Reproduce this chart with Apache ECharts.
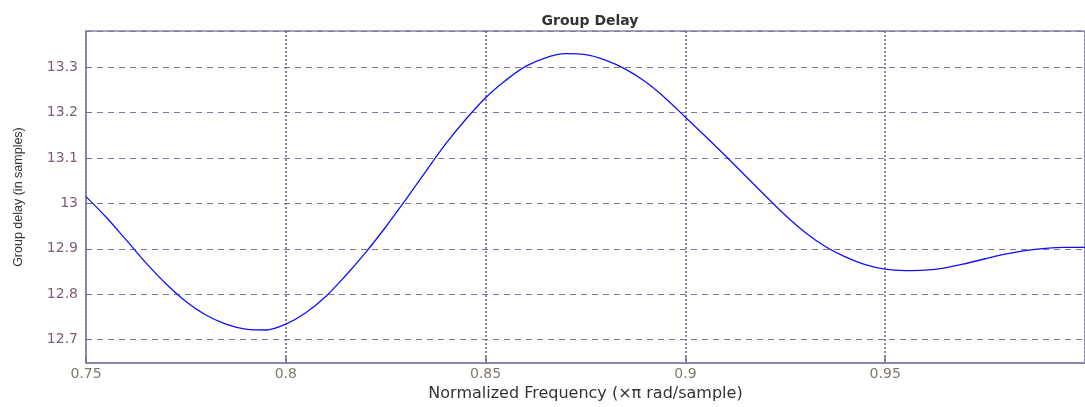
<!DOCTYPE html>
<html>
<head>
<meta charset="utf-8">
<script src="https://cdn.jsdelivr.net/npm/echarts@6/dist/echarts.min.js"></script>
<style>
html,body{margin:0;padding:0;background:#fff;}
#chart{width:1085px;height:407px;}
</style>
</head>
<body>
<div id="chart"></div>
<script>
// Normalized frequency (x pi rad/sample)
const freq = [0.750,0.755,0.760,0.765,0.770,0.775,0.780,0.785,0.790,0.795,
              0.800,0.805,0.810,0.815,0.820,0.825,0.830,0.835,0.840,0.845,
              0.850,0.855,0.860,0.865,0.870,0.875,0.880,0.885,0.890,0.895,
              0.900,0.905,0.910,0.915,0.920,0.925,0.930,0.935,0.940,0.945,
              0.950,0.955,0.960,0.965,0.970,0.975,0.980,0.985,0.990,0.995,1.000];
// Group delay (in samples)
const delay = [13.015,12.970,12.920,12.869,12.823,12.784,12.754,12.734,12.723,12.721,
               12.734,12.759,12.795,12.841,12.892,12.948,13.008,13.070,13.131,13.185,
               13.233,13.271,13.302,13.321,13.330,13.328,13.316,13.296,13.268,13.232,
               13.190,13.148,13.105,13.061,13.017,12.974,12.936,12.905,12.882,12.865,
               12.855,12.852,12.853,12.858,12.867,12.878,12.888,12.896,12.901,12.903,12.903];
const xTicks = [0.75,0.8,0.85,0.9,0.95];
const yTicks = [12.7,12.8,12.9,13,13.1,13.2,13.3];

const titleText = 'Group Delay';
const xName = 'Normalized Frequency (\u00d7\u03c0 rad/sample)';
const yName = 'Group delay (in samples)';

const chart = echarts.init(document.getElementById('chart'), null, {renderer:'canvas'});
const pts = freq.map((f,i)=>[f, delay[i]]);
const near = (v, arr) => arr.some(t => Math.abs(t - v) < 1e-6);

chart.setOption({
  animation: false,
  backgroundColor: '#ffffff',
  title: {
    text: titleText,
    left: 585,
    textAlign: 'center',
    top: 9,
    textStyle: {fontFamily: 'DejaVu Sans', fontSize: 14, fontWeight: 'bold', color: '#333333'}
  },
  grid: {
    left: 86, right: 0, top: 31, bottom: 39,
    show: true, borderColor: '#8585a5', borderWidth: 1.5, backgroundColor: '#ffffff'
  },
  xAxis: {
    type: 'value',
    min: 0.75, max: 1.0, interval: 0.05,
    name: xName,
    nameLocation: 'middle',
    nameGap: 17,
    nameTextStyle: {fontFamily: 'DejaVu Sans', fontSize: 16, color: '#333333'},
    axisLine: {show: true, onZero: false, lineStyle: {color: '#8585a5', width: 1.5}},
    axisTick: {show: true, inside: true, length: 6, lineStyle: {color: '#70708c', width: 1.5}},
    axisLabel: {
      margin: 4,
      showMaxLabel: false,
      fontFamily: 'DejaVu Sans', fontSize: 14, color: '#80786c',
      formatter: v => near(v, xTicks) ? String(Math.round(v*100)/100) : ''
    },
    splitLine: {show: true, lineStyle: {color: '#66668a', width: 1.5, type: [2, 2]}}
  },
  yAxis: {
    type: 'value',
    min: 12.648, max: 13.38, splitNumber: 7,
    name: yName,
    nameLocation: 'middle',
    nameGap: 61,
    nameTextStyle: {fontFamily: 'Liberation Sans', fontSize: 12.5, color: '#333333'},
    axisLine: {show: true, lineStyle: {color: '#8585a5', width: 1.5}},
    axisTick: {show: true, inside: true, length: 6, lineStyle: {color: '#70708c', width: 1}},
    axisLabel: {
      margin: 8,
      showMinLabel: false, showMaxLabel: false,
      fontFamily: 'DejaVu Sans', fontSize: 14, color: '#7d5d77',
      formatter: v => near(v, yTicks) ? String(Math.round(v*10)/10) : ''
    },
    splitLine: {show: true, lineStyle: {color: '#7a7a9a', width: 1, type: [6, 5]}}
  },
  series: [{
    type: 'line',
    data: pts,
    showSymbol: false,
    smooth: 0.35,
    lineStyle: {color: '#1010ff', width: 1.3},
    z: 5
  }]
});
</script>
</body>
</html>
